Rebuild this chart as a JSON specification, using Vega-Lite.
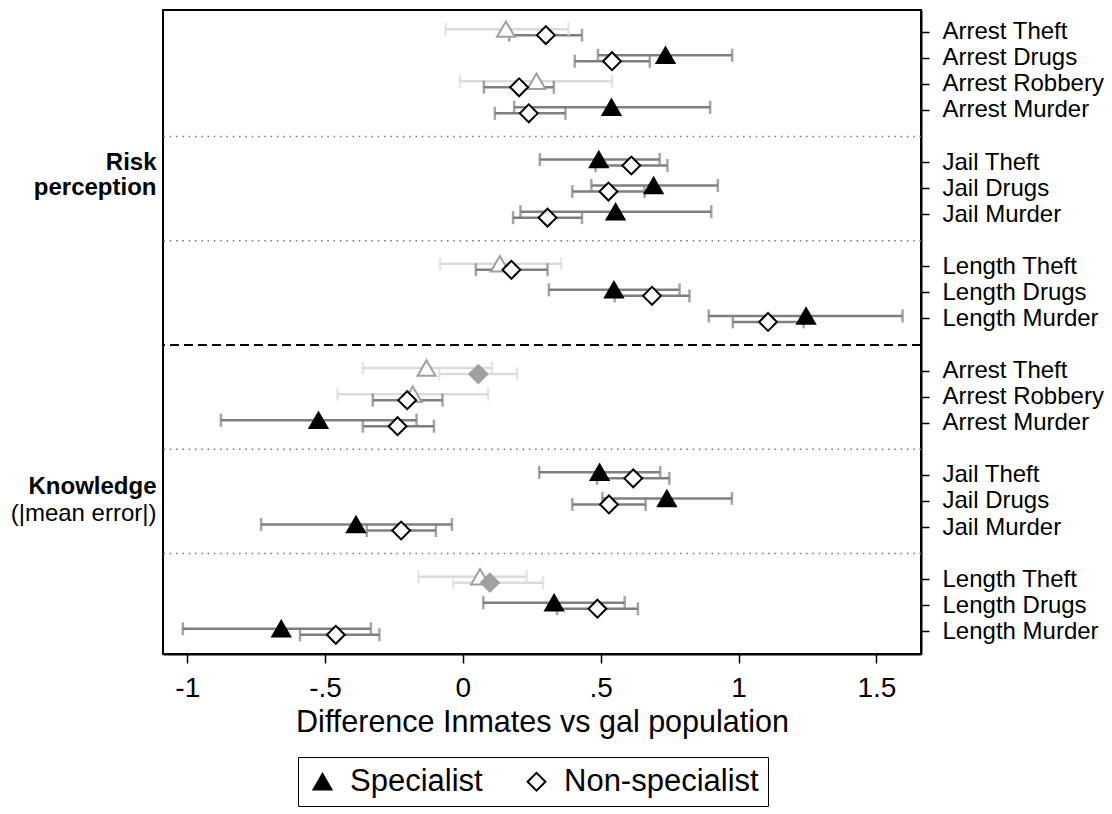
{
  "$schema": "https://vega.github.io/schema/vega-lite/v6.json",
  "width": 758,
  "height": 644,
  "autosize": {"type": "none"},
  "padding": {"left": 163, "top": 10, "right": 191, "bottom": 160},
  "background": "white",
  "config": {
    "font": "Liberation Sans",
    "view": {"stroke": "black", "strokeWidth": 2},
    "axis": {"grid": false, "domainColor": "black", "domainWidth": 2, "tickColor": "black", "tickWidth": 1.5, "labelColor": "black", "titleColor": "black"},
    "legend": {"direction": "horizontal", "labelFontSize": 31, "labelLimit": 400, "symbolSize": 320, "symbolStrokeWidth": 2, "symbolStrokeColor": "black", "strokeColor": "black", "padding": 9, "columnPadding": 38, "labelOffset": 12, "labelColor": "black"}
  },
  "datasets": {
    "est": [
      {"key": "R|Arrest Theft", "group": "Specialist", "est": 0.156, "lo": -0.063, "hi": 0.383, "sig": false},
      {"key": "R|Arrest Theft", "group": "Non-specialist", "est": 0.301, "lo": 0.168, "hi": 0.432, "sig": true},
      {"key": "R|Arrest Drugs", "group": "Specialist", "est": 0.735, "lo": 0.49, "hi": 0.977, "sig": true},
      {"key": "R|Arrest Drugs", "group": "Non-specialist", "est": 0.541, "lo": 0.406, "hi": 0.678, "sig": true},
      {"key": "R|Arrest Robbery", "group": "Specialist", "est": 0.267, "lo": -0.011, "hi": 0.541, "sig": false},
      {"key": "R|Arrest Robbery", "group": "Non-specialist", "est": 0.204, "lo": 0.076, "hi": 0.330, "sig": true},
      {"key": "R|Arrest Murder", "group": "Specialist", "est": 0.539, "lo": 0.186, "hi": 0.897, "sig": true},
      {"key": "R|Arrest Murder", "group": "Non-specialist", "est": 0.239, "lo": 0.116, "hi": 0.372, "sig": true},
      {"key": "R|Jail Theft", "group": "Specialist", "est": 0.493, "lo": 0.279, "hi": 0.714, "sig": true},
      {"key": "R|Jail Theft", "group": "Non-specialist", "est": 0.611, "lo": 0.481, "hi": 0.742, "sig": true},
      {"key": "R|Jail Drugs", "group": "Specialist", "est": 0.692, "lo": 0.466, "hi": 0.925, "sig": true},
      {"key": "R|Jail Drugs", "group": "Non-specialist", "est": 0.528, "lo": 0.397, "hi": 0.659, "sig": true},
      {"key": "R|Jail Murder", "group": "Specialist", "est": 0.554, "lo": 0.209, "hi": 0.901, "sig": true},
      {"key": "R|Jail Murder", "group": "Non-specialist", "est": 0.307, "lo": 0.182, "hi": 0.432, "sig": true},
      {"key": "R|Length Theft", "group": "Specialist", "est": 0.134, "lo": -0.083, "hi": 0.357, "sig": false},
      {"key": "R|Length Theft", "group": "Non-specialist", "est": 0.176, "lo": 0.047, "hi": 0.307, "sig": true},
      {"key": "R|Length Drugs", "group": "Specialist", "est": 0.548, "lo": 0.312, "hi": 0.786, "sig": true},
      {"key": "R|Length Drugs", "group": "Non-specialist", "est": 0.686, "lo": 0.551, "hi": 0.822, "sig": true},
      {"key": "R|Length Murder", "group": "Specialist", "est": 1.245, "lo": 0.892, "hi": 1.595, "sig": true},
      {"key": "R|Length Murder", "group": "Non-specialist", "est": 1.107, "lo": 0.979, "hi": 1.236, "sig": true},
      {"key": "K|Arrest Theft", "group": "Specialist", "est": -0.132, "lo": -0.363, "hi": 0.105, "sig": false},
      {"key": "K|Arrest Theft", "group": "Non-specialist", "est": 0.056, "lo": -0.086, "hi": 0.197, "sig": false},
      {"key": "K|Arrest Robbery", "group": "Specialist", "est": -0.182, "lo": -0.455, "hi": 0.092, "sig": false},
      {"key": "K|Arrest Robbery", "group": "Non-specialist", "est": -0.202, "lo": -0.327, "hi": -0.074, "sig": true},
      {"key": "K|Arrest Murder", "group": "Specialist", "est": -0.524, "lo": -0.878, "hi": -0.168, "sig": true},
      {"key": "K|Arrest Murder", "group": "Non-specialist", "est": -0.237, "lo": -0.363, "hi": -0.105, "sig": true},
      {"key": "K|Jail Theft", "group": "Specialist", "est": 0.496, "lo": 0.277, "hi": 0.716, "sig": true},
      {"key": "K|Jail Theft", "group": "Non-specialist", "est": 0.618, "lo": 0.487, "hi": 0.749, "sig": true},
      {"key": "K|Jail Drugs", "group": "Specialist", "est": 0.740, "lo": 0.506, "hi": 0.976, "sig": true},
      {"key": "K|Jail Drugs", "group": "Non-specialist", "est": 0.530, "lo": 0.397, "hi": 0.663, "sig": true},
      {"key": "K|Jail Murder", "group": "Specialist", "est": -0.388, "lo": -0.732, "hi": -0.040, "sig": true},
      {"key": "K|Jail Murder", "group": "Non-specialist", "est": -0.224, "lo": -0.349, "hi": -0.098, "sig": true},
      {"key": "K|Length Theft", "group": "Specialist", "est": 0.062, "lo": -0.161, "hi": 0.231, "sig": false},
      {"key": "K|Length Theft", "group": "Non-specialist", "est": 0.098, "lo": -0.035, "hi": 0.291, "sig": false},
      {"key": "K|Length Drugs", "group": "Specialist", "est": 0.331, "lo": 0.074, "hi": 0.587, "sig": true},
      {"key": "K|Length Drugs", "group": "Non-specialist", "est": 0.488, "lo": 0.342, "hi": 0.635, "sig": true},
      {"key": "K|Length Murder", "group": "Specialist", "est": -0.659, "lo": -1.016, "hi": -0.334, "sig": true},
      {"key": "K|Length Murder", "group": "Non-specialist", "est": -0.461, "lo": -0.591, "hi": -0.303, "sig": true}
    ]
  },
  "resolve": {"axis": {"y": "independent"}},
  "layer": [
    {
      "data": {"values": [{"key": "g4"}, {"key": "g8"}, {"key": "g16"}, {"key": "g20"}]},
      "mark": {"type": "rule", "stroke": "#777777", "strokeWidth": 1.5, "strokeDash": [1.5, 4.8]},
      "encoding": {
        "y": {
          "field": "key", "type": "nominal",
          "scale": {"domain": ["R|Arrest Theft","R|Arrest Drugs","R|Arrest Robbery","R|Arrest Murder","g4","R|Jail Theft","R|Jail Drugs","R|Jail Murder","g8","R|Length Theft","R|Length Drugs","R|Length Murder","g12","K|Arrest Theft","K|Arrest Robbery","K|Arrest Murder","g16","K|Jail Theft","K|Jail Drugs","K|Jail Murder","g20","K|Length Theft","K|Length Drugs","K|Length Murder"], "paddingInner": 0, "paddingOuter": 0.35},
          "axis": {
            "orient": "left", "title": null, "domain": false, "tickSize": 0, "labelPadding": 7, "labelFontSize": 24,
            "values": ["R|Jail Theft", "R|Jail Drugs", "K|Jail Theft", "K|Jail Drugs"],
            "labelExpr": "datum.value == 'R|Jail Theft' ? 'Risk' : datum.value == 'R|Jail Drugs' ? 'perception' : datum.value == 'K|Jail Theft' ? 'Knowledge' : '(|mean error|)'",
            "labelFontWeight": {"condition": {"test": "datum.value == 'K|Jail Drugs'", "value": "normal"}, "value": "bold"},
            "labelOffset": {"condition": [{"test": "datum.value == 'K|Jail Theft'", "value": 12}, {"test": "datum.value == 'K|Jail Drugs'", "value": 13}, {"test": "datum.value == 'R|Jail Drugs'", "value": -1}], "value": 0}
          }
        }
      }
    },
    {
      "data": {"values": [{"key": "g12"}]},
      "mark": {"type": "rule", "stroke": "black", "strokeWidth": 2, "strokeDash": [9, 5]},
      "encoding": {
        "y": {"field": "key", "type": "nominal", "axis": null,
          "scale": {"domain": ["R|Arrest Theft","R|Arrest Drugs","R|Arrest Robbery","R|Arrest Murder","g4","R|Jail Theft","R|Jail Drugs","R|Jail Murder","g8","R|Length Theft","R|Length Drugs","R|Length Murder","g12","K|Arrest Theft","K|Arrest Robbery","K|Arrest Murder","g16","K|Jail Theft","K|Jail Drugs","K|Jail Murder","g20","K|Length Theft","K|Length Drugs","K|Length Murder"]}}
      }
    },
    {
      "data": {"name": "est"},
      "mark": {"type": "rule", "strokeWidth": 2.5},
      "encoding": {
        "x": {"field": "lo", "type": "quantitative",
          "scale": {"domain": [-1.088, 1.662], "nice": false, "zero": false},
          "axis": {"values": [-1, -0.5, 0, 0.5, 1, 1.5], "labelExpr": "replace(toString(datum.value), '0.', '.')", "title": "Difference Inmates vs gal population", "labelFontSize": 28, "titleFontSize": 30.5, "titleFontWeight": "normal", "tickSize": 9, "labelPadding": 11, "titlePadding": 5}},
        "x2": {"field": "hi"},
        "y": {"field": "key", "type": "nominal", "axis": null,
          "scale": {"domain": ["R|Arrest Theft","R|Arrest Drugs","R|Arrest Robbery","R|Arrest Murder","g4","R|Jail Theft","R|Jail Drugs","R|Jail Murder","g8","R|Length Theft","R|Length Drugs","R|Length Murder","g12","K|Arrest Theft","K|Arrest Robbery","K|Arrest Murder","g16","K|Jail Theft","K|Jail Drugs","K|Jail Murder","g20","K|Length Theft","K|Length Drugs","K|Length Murder"]}},
        "yOffset": {"field": "group", "type": "nominal", "scale": {"domain": ["Specialist", "Non-specialist"], "range": [7, 19]}},
        "stroke": {"condition": {"test": "datum.sig", "value": "#7f7f7f"}, "value": "#dcdcdc"}
      }
    },
    {
      "data": {"name": "est"},
      "mark": {"type": "tick", "orient": "vertical", "size": 13, "thickness": 2.5},
      "encoding": {
        "x": {"field": "lo", "type": "quantitative"},
        "y": {"field": "key", "type": "nominal", "axis": null,
          "scale": {"domain": ["R|Arrest Theft","R|Arrest Drugs","R|Arrest Robbery","R|Arrest Murder","g4","R|Jail Theft","R|Jail Drugs","R|Jail Murder","g8","R|Length Theft","R|Length Drugs","R|Length Murder","g12","K|Arrest Theft","K|Arrest Robbery","K|Arrest Murder","g16","K|Jail Theft","K|Jail Drugs","K|Jail Murder","g20","K|Length Theft","K|Length Drugs","K|Length Murder"]}},
        "yOffset": {"field": "group", "type": "nominal"},
        "color": {"condition": {"test": "datum.sig", "value": "#7f7f7f"}, "value": "#dcdcdc"}
      }
    },
    {
      "data": {"name": "est"},
      "mark": {"type": "tick", "orient": "vertical", "size": 13, "thickness": 2.5},
      "encoding": {
        "x": {"field": "hi", "type": "quantitative"},
        "y": {"field": "key", "type": "nominal", "axis": null,
          "scale": {"domain": ["R|Arrest Theft","R|Arrest Drugs","R|Arrest Robbery","R|Arrest Murder","g4","R|Jail Theft","R|Jail Drugs","R|Jail Murder","g8","R|Length Theft","R|Length Drugs","R|Length Murder","g12","K|Arrest Theft","K|Arrest Robbery","K|Arrest Murder","g16","K|Jail Theft","K|Jail Drugs","K|Jail Murder","g20","K|Length Theft","K|Length Drugs","K|Length Murder"]}},
        "yOffset": {"field": "group", "type": "nominal"},
        "color": {"condition": {"test": "datum.sig", "value": "#7f7f7f"}, "value": "#dcdcdc"}
      }
    },
    {
      "mark": {"type": "rule", "stroke": "black", "strokeWidth": 2.5},
      "encoding": {"x": {"datum": 0, "type": "quantitative"}}
    },
    {
      "data": {"name": "est"},
      "mark": {"type": "point", "filled": true, "size": 320, "strokeWidth": 2, "opacity": 1},
      "encoding": {
        "x": {"field": "est", "type": "quantitative"},
        "y": {"field": "key", "type": "nominal",
          "scale": {"domain": ["R|Arrest Theft","R|Arrest Drugs","R|Arrest Robbery","R|Arrest Murder","g4","R|Jail Theft","R|Jail Drugs","R|Jail Murder","g8","R|Length Theft","R|Length Drugs","R|Length Murder","g12","K|Arrest Theft","K|Arrest Robbery","K|Arrest Murder","g16","K|Jail Theft","K|Jail Drugs","K|Jail Murder","g20","K|Length Theft","K|Length Drugs","K|Length Murder"]},
          "axis": {
            "orient": "right", "title": null, "tickSize": 8, "labelPadding": 13, "labelFontSize": 24,
            "values": ["R|Arrest Theft","R|Arrest Drugs","R|Arrest Robbery","R|Arrest Murder","R|Jail Theft","R|Jail Drugs","R|Jail Murder","R|Length Theft","R|Length Drugs","R|Length Murder","K|Arrest Theft","K|Arrest Robbery","K|Arrest Murder","K|Jail Theft","K|Jail Drugs","K|Jail Murder","K|Length Theft","K|Length Drugs","K|Length Murder"],
            "labelExpr": "split(datum.value, '|')[1]"
          }
        },
        "yOffset": {"field": "group", "type": "nominal"},
        "shape": {"field": "group", "type": "nominal", "scale": {"domain": ["Specialist", "Non-specialist"], "range": ["triangle-up", "diamond"]},
          "legend": {"title": null, "orient": "none", "legendX": 135, "legendY": 747, "direction": "horizontal"}},
        "fill": {"field": "group", "type": "nominal", "scale": {"domain": ["Specialist", "Non-specialist"], "range": ["black", "white"]},
          "legend": {"title": null, "orient": "none", "legendX": 135, "legendY": 747, "direction": "horizontal"},
          "condition": [{"test": "!datum.sig && datum.group == 'Specialist'", "value": "white"}, {"test": "!datum.sig", "value": "#a0a0a0"}]},
        "stroke": {"field": "group", "type": "nominal", "scale": {"domain": ["Specialist", "Non-specialist"], "range": ["black", "black"]},
          "legend": {"title": null, "orient": "none", "legendX": 135, "legendY": 747, "direction": "horizontal"},
          "condition": {"test": "!datum.sig", "value": "#a0a0a0"}}
      }
    }
  ]
}
